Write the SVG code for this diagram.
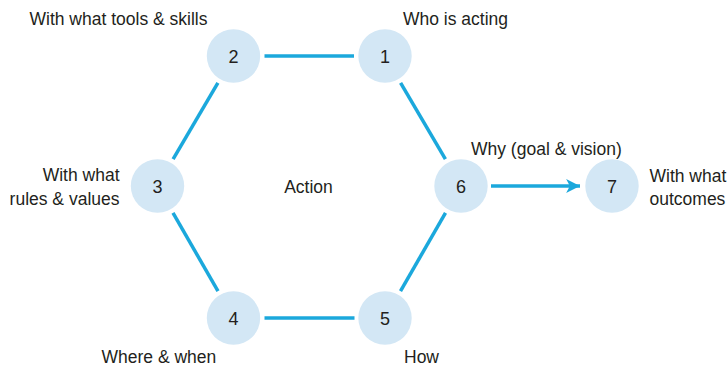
<svg xmlns="http://www.w3.org/2000/svg" width="728" height="365" viewBox="0 0 728 365">
  <style>
    .node circle { fill: #d3e7f5; }
    .num { font-family: "Liberation Sans", Arial, sans-serif; font-size: 18px; fill: #231f20; text-anchor: middle; }
    .lbl { font-family: "Liberation Sans", Arial, sans-serif; font-size: 17.5px; fill: #231f20; }
    .edge { stroke: #1ba8dc; stroke-width: 3.5; fill: none; }
  </style>
  <defs>
    <marker id="arrowhead" markerUnits="userSpaceOnUse" markerWidth="16" markerHeight="16" viewBox="-14 -7 15 14" refX="0" refY="0" orient="auto">
      <path d="M0,0 L-13,-6.5 L-9.5,0 L-13,6.5 Z" fill="#1ba8dc"/>
    </marker>
  </defs>
  <rect width="728" height="365" fill="#ffffff"/>

  <!-- connectors: hexagon ring plus the outgoing arrow -->
  <g id="connectors">
    <line class="edge" x1="264.5" y1="56" x2="354" y2="56"/>
    <line class="edge" x1="217.9" y1="82.8" x2="173.1" y2="159.2"/>
    <line class="edge" x1="400.6" y1="82.8" x2="445.4" y2="159.2"/>
    <line class="edge" x1="173" y1="212.9" x2="218" y2="291.1"/>
    <line class="edge" x1="445.5" y1="212.9" x2="400.5" y2="291.1"/>
    <line class="edge" x1="264.5" y1="318" x2="354.5" y2="318"/>
    <line class="edge" x1="491" y1="186" x2="580" y2="186" marker-end="url(#arrowhead)"/>
  </g>

  <g id="node-1" class="node">
    <circle cx="385" cy="56" r="26.7"/>
    <text class="num" x="385" y="62.5">1</text>
    <text class="lbl" x="403" y="25">Who is acting</text>
  </g>
  <g id="node-2" class="node">
    <circle cx="233.5" cy="56" r="26.7"/>
    <text class="num" x="233.5" y="62.5">2</text>
    <text class="lbl" x="29.5" y="25">With what tools &amp; skills</text>
  </g>
  <g id="node-3" class="node">
    <circle cx="157.5" cy="186" r="26.7"/>
    <text class="num" x="157.5" y="192.5">3</text>
    <text class="lbl" x="119.5" y="180.5" text-anchor="end">With what</text>
    <text class="lbl" x="119.5" y="204.5" text-anchor="end">rules &amp; values</text>
  </g>
  <g id="node-4" class="node">
    <circle cx="233.5" cy="318" r="26.7"/>
    <text class="num" x="233.5" y="324.5">4</text>
    <text class="lbl" x="101.5" y="362.5">Where &amp; when</text>
  </g>
  <g id="node-5" class="node">
    <circle cx="385" cy="318" r="26.7"/>
    <text class="num" x="385" y="324.5">5</text>
    <text class="lbl" x="404" y="362.5">How</text>
  </g>
  <g id="node-6" class="node">
    <circle cx="461" cy="186" r="26.7"/>
    <text class="num" x="461" y="192.5">6</text>
    <text class="lbl" x="471" y="155">Why (goal &amp; vision)</text>
  </g>
  <g id="node-7" class="node">
    <circle cx="612" cy="186" r="26.7"/>
    <text class="num" x="612" y="192.5">7</text>
    <text class="lbl" x="649.5" y="181.5">With what</text>
    <text class="lbl" x="649.5" y="205">outcomes</text>
  </g>

  <g id="center-label">
    <text class="lbl" x="308.5" y="193" text-anchor="middle">Action</text>
  </g>
</svg>
